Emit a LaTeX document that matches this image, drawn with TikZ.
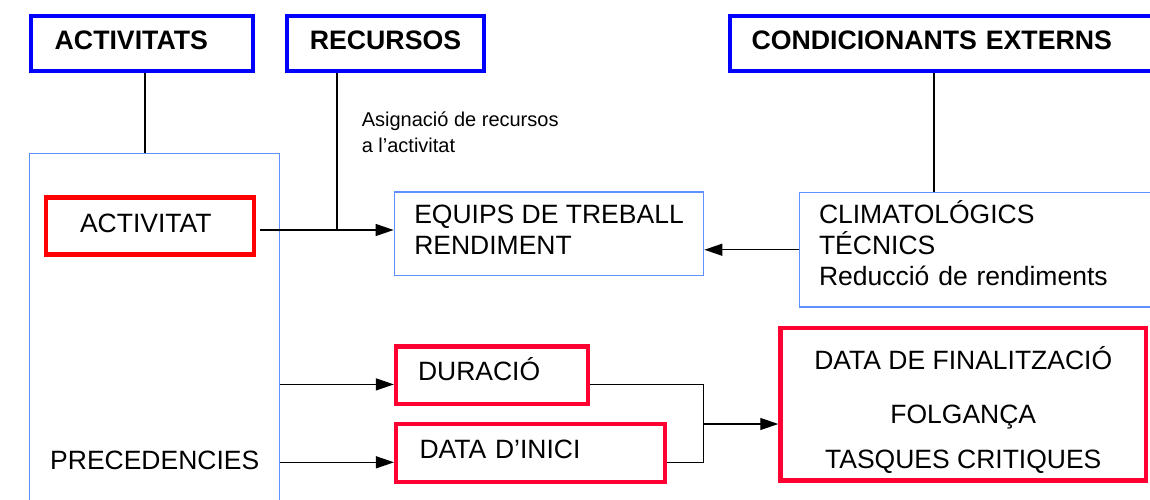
\documentclass[tikz,border=0pt]{standalone}
\usepackage{fontspec}
\setmainfont{Liberation Sans}
\usetikzlibrary{arrows.meta}
\definecolor{hblue}{RGB}{0,0,255}
\definecolor{lblue}{RGB}{96,144,255}
\definecolor{pred}{RGB}{255,0,0}
\definecolor{crim}{RGB}{255,0,51}
\begin{document}
\begin{tikzpicture}[x=1pt,y=-1pt,
  hdr/.style={draw=hblue, line width=4pt, inner sep=0pt, align=left,
    font=\fontsize{26.7}{31}\selectfont\bfseries},
  lbox/.style={draw=lblue, line width=1.8pt, inner sep=0pt, align=left,
    font=\fontsize{26.5}{31}\selectfont},
  rbox/.style={draw=crim, line width=4.5pt, inner sep=0pt, align=left,
    font=\fontsize{26.5}{31}\selectfont},
  plain/.style={inner sep=0pt, font=\fontsize{26.5}{31}\selectfont},
  vline/.style={line width=2pt, draw=black},
  conn/.style={line width=1pt, draw=black},
  arr/.style={line width=1.3pt, draw=black, -{Triangle[length=18pt,width=12pt]}}]
\useasboundingbox (0,0) rectangle (1150,500);
\clip (0,0) rectangle (1150,500);

% header boxes
\node[hdr, minimum width=222pt, minimum height=55pt, text width=173.6pt,
  text height=13pt, text depth=0pt] (acts) at (141.5,43.5) {ACTIVITATS};
\node[hdr, minimum width=197pt, minimum height=55pt,
  text height=13pt, text depth=0pt] (rec) at (385.5,43.5) {RECURSOS};
\node[hdr, minimum width=440pt, minimum height=55pt, text width=397pt,
  text height=13pt, text depth=0pt] (cond) at (950,43.5) {CONDICIONANTS EXTERNS};

% activity column
\node[lbox, minimum width=250pt, minimum height=390pt] (actbox) at (154.5,348.5) {};
\node[rbox, draw=pred, minimum width=207.6pt, minimum height=57.3pt, text width=140pt,
  text height=13.6pt, text depth=0pt] (actv) at (150,225.9) {ACTIVITAT};
\node[plain, anchor=base west] (prec) at (50,469) {PRECEDENCIES};

% middle and right boxes
\node[lbox, minimum width=309pt, minimum height=83.5pt,
  text height=40.5pt, text depth=0pt] (equips) at (549,233.75) {EQUIPS DE TREBALL\\RENDIMENT};
\node[lbox, minimum width=370.5pt, minimum height=114.5pt, text width=331.5pt,
  text height=0pt, text depth=52.9pt] (clim) at (984.75,249.75)
  {CLIMATOLÓGICS\\TÉCNICS\\Reducció de rendiments};
\node[rbox, minimum width=191.8pt, minimum height=57.3pt, text width=148pt,
  text height=11pt, text depth=0pt] (dur) at (492,375.2) {DURACIÓ};
\node[rbox, minimum width=268.8pt, minimum height=58pt, text width=222.2pt,
  text height=11.4pt, text depth=0pt] (dini) at (530.6,453) {DATA D’INICI};
\node[rbox, align=center, minimum width=365.5pt, minimum height=152.5pt,
  text height=128.1pt, text depth=0pt] (res) at (963.25,404.25)
  {DATA DE FINALITZACIÓ\\[23.3pt]FOLGANÇA\\[14pt]TASQUES CRITIQUES};

\node[inner sep=0pt, anchor=base west, align=left, font=\fontsize{20}{26}\selectfont]
  (asig) at (361.6,152.7) {Asignació de recursos\\a l’activitat};

% connectors
\draw[vline] ([xshift=3.2pt]acts.south) -- ([xshift=3.2pt]acts.south |- actbox.north);
\coordinate (j) at (337,230);
\draw[vline] (rec.south -| j) -- (j);
\draw[arr, shorten <=4pt] (actv.east |- j) -- (j -| equips.west);
\coordinate (k) at (934,0);
\draw[vline] (cond.south -| k) -- (k |- clim.north);
\draw[arr] (clim.west) -- (clim.west -| equips.east);

\coordinate (d1) at ([yshift=-9.2pt]dur.west);
\coordinate (d2) at ([yshift=-9.3pt]dini.west);
\draw[arr] (actbox.east |- d1) -- (d1);
\draw[arr] (actbox.east |- d2) -- (d2);
\coordinate (m) at (703.3,424);
\draw[conn] (dur.east |- d1) -| (m);
\draw[conn] (dini.east |- d2) -| (m);
\draw[arr] (m) -- (m -| res.west);
\end{tikzpicture}
\end{document}
